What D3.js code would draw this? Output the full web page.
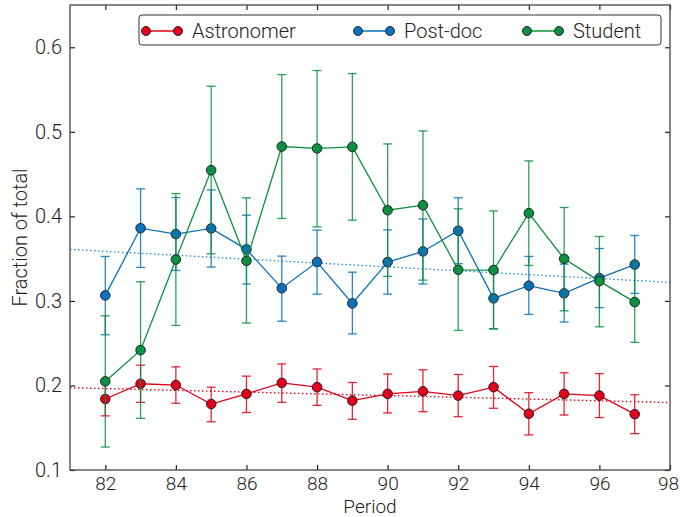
<!DOCTYPE html>
<html><head><meta charset="utf-8">
<script src="https://cdn.jsdelivr.net/npm/d3@7"></script>
<style>
body{margin:0;background:#fff;}
svg text{font-family:"Roboto","Liberation Sans",sans-serif;font-weight:300;fill:#222;}
</style></head>
<body><svg id="c" width="680" height="517"></svg>
<script>
const periods = [82,83,84,85,86,87,88,89,90,91,92,93,94,95,96,97];
const seriesNames = ["Astronomer","Post-doc","Student"];
const seriesColors = ["#e2001a","#0a72bd","#0a9040"];
const astroVal = [0.184,0.202,0.2005,0.178,0.190,0.203,0.198,0.182,0.190,0.193,0.188,0.198,0.1665,0.190,0.188,0.166];
const astroLo  = [0.164,0.180,0.179,0.157,0.168,0.180,0.1765,0.160,0.1675,0.169,0.163,0.173,0.1415,0.165,0.162,0.143];
const astroHi  = [0.204,0.224,0.222,0.198,0.211,0.2255,0.2195,0.2035,0.2135,0.2185,0.213,0.2225,0.1915,0.215,0.214,0.189];
const postVal = [0.3065,0.386,0.379,0.3857,0.361,0.315,0.346,0.297,0.346,0.3585,0.383,0.303,0.318,0.309,0.327,0.343];
const postLo  = [0.260,0.3396,0.336,0.340,0.320,0.276,0.308,0.261,0.308,0.320,0.344,0.267,0.284,0.275,0.292,0.309];
const postHi  = [0.3526,0.4325,0.4223,0.4313,0.4014,0.353,0.3837,0.334,0.384,0.397,0.422,0.339,0.3526,0.3435,0.362,0.3774];
const studVal = [0.2048,0.2418,0.349,0.4546,0.3474,0.4826,0.4803,0.4822,0.4073,0.4132,0.3368,0.3364,0.4038,0.3498,0.3234,0.2986];
const studLo  = [0.1272,0.1611,0.271,0.3557,0.2738,0.3975,0.3876,0.3955,0.329,0.3246,0.2651,0.267,0.342,0.2883,0.2694,0.251];
const studHi  = [0.2824,0.3226,0.427,0.5539,0.4219,0.5677,0.5725,0.5689,0.4857,0.501,0.4089,0.4065,0.4656,0.4105,0.3762,0.346];
// linear trend lines: value at period 81 and 98
const trendPeriods = [81,98];
const astroTrend = [0.1973,0.1798];
const postTrend = [0.3609,0.3219];
const xTicks = [82,84,86,88,90,92,94,96,98];
const yTicks = [0.1,0.2,0.3,0.4,0.5,0.6];

const svg = d3.select("#c");
const L=70, R=670, T=5, B=470;
const x = d3.scaleLinear().domain([81,98]).range([L,R]);
const y = d3.scaleLinear().domain([0.1,0.65]).range([B,T]);

const series = [
  {name:seriesNames[0], color:seriesColors[0], v:astroVal, lo:astroLo, hi:astroHi},
  {name:seriesNames[1], color:seriesColors[1], v:postVal, lo:postLo, hi:postHi},
  {name:seriesNames[2], color:seriesColors[2], v:studVal, lo:studLo, hi:studHi}
];

// trend lines
[[astroTrend,seriesColors[0]],[postTrend,"#2b8fd4"]].forEach(([t,c])=>{
  svg.append("line").attr("x1",x(trendPeriods[0])).attr("x2",x(trendPeriods[1]))
    .attr("y1",y(t[0])).attr("y2",y(t[1])).attr("stroke",c).attr("stroke-width",1.4)
    .attr("stroke-dasharray","1.5,2.5");
});

const line = d3.line().x((d,i)=>x(periods[i])).y(d=>y(d));
series.forEach(s=>{
  const g = svg.append("g");
  periods.forEach((p,i)=>{
    const px = x(p);
    g.append("line").attr("x1",px).attr("x2",px).attr("y1",y(s.lo[i])).attr("y2",y(s.hi[i]))
      .attr("stroke",s.color).attr("stroke-width",1.3).attr("opacity",0.85);
    [s.lo[i],s.hi[i]].forEach(v=>{
      g.append("line").attr("x1",px-4.5).attr("x2",px+4.5).attr("y1",y(v)).attr("y2",y(v))
        .attr("stroke",s.color).attr("stroke-width",1.3).attr("opacity",0.85);
    });
  });
  g.append("path").attr("d",line(s.v)).attr("fill","none").attr("stroke",s.color).attr("stroke-width",1.3);
  g.selectAll("circle").data(s.v).join("circle")
    .attr("cx",(d,i)=>x(periods[i])).attr("cy",d=>y(d)).attr("r",4.8)
    .attr("fill",s.color).attr("stroke","#1a1a1a").attr("stroke-width",0.9);
});

// axes frame
const axG = svg.append("g");
const fs = 20;
axG.append("g").attr("transform",`translate(0,${B})`)
  .call(d3.axisBottom(x).tickValues(xTicks).tickSize(-5).tickPadding(7).tickFormat(d3.format("d")))
  .call(g=>{g.select(".domain").remove();g.selectAll("text").style("font-size","19px").attr("dy","0.71em");
    g.selectAll("text").filter(d=>d===98).attr("dx",-2);});
axG.append("g").attr("transform",`translate(0,${T})`)
  .call(d3.axisTop(x).tickValues(xTicks).tickSize(-5).tickFormat(""))
  .call(g=>g.select(".domain").remove());
axG.append("g").attr("transform",`translate(${L},0)`)
  .call(d3.axisLeft(y).tickValues(yTicks).tickSize(-5).tickPadding(8).tickFormat(d3.format(".1f")))
  .call(g=>{g.select(".domain").remove();g.selectAll("text").style("font-size",fs+"px");});
axG.append("g").attr("transform",`translate(${R},0)`)
  .call(d3.axisRight(y).tickValues(yTicks).tickSize(-5).tickFormat(""))
  .call(g=>g.select(".domain").remove());
axG.selectAll(".tick line").attr("stroke","#222").attr("stroke-width",1.2);
axG.append("rect").attr("x",L).attr("y",T).attr("width",R-L).attr("height",B-T)
  .attr("fill","none").attr("stroke","#444").attr("stroke-width",1.3);

svg.append("text").attr("x",(L+R)/2).attr("y",513).attr("text-anchor","middle")
  .style("font-size","19px").text("Period");
svg.append("text").attr("transform",`translate(27,${(T+B)/2}) rotate(-90)`).attr("text-anchor","middle")
  .style("font-size",fs+"px").text("Fraction of total");

// legend
const lg = svg.append("g");
lg.append("rect").attr("x",139).attr("y",15).attr("width",522).attr("height",30).attr("rx",3)
  .attr("fill","#fff").attr("stroke","#333").attr("stroke-width",1);
const legX = [146,358,527];
series.forEach((s,i)=>{
  const x0 = legX[i], ly = 31;
  lg.append("line").attr("x1",x0).attr("x2",x0+32).attr("y1",ly).attr("y2",ly).attr("stroke",s.color).attr("stroke-width",1.5);
  [x0,x0+32].forEach(cx=>lg.append("circle").attr("cx",cx).attr("cy",ly).attr("r",4.5)
    .attr("fill",s.color).attr("stroke","#1a1a1a").attr("stroke-width",0.9));
  lg.append("text").attr("x",x0+46).attr("y",ly).attr("dy","0.35em").style("font-size",fs+"px").text(s.name);
});
</script></body></html>
